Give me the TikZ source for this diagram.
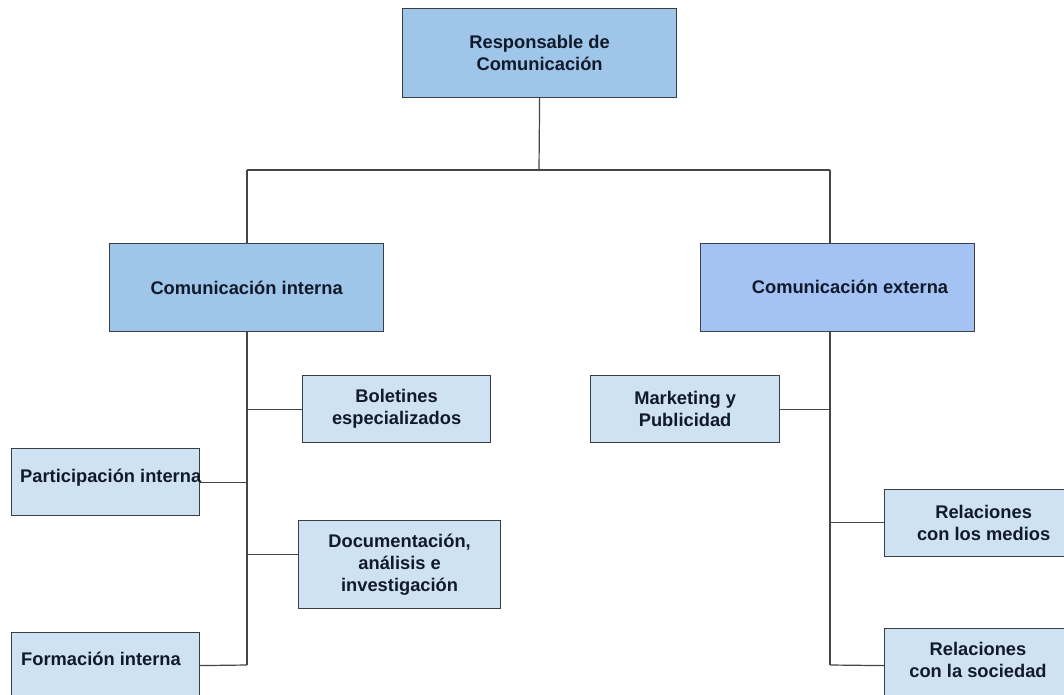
\documentclass[tikz,border=0pt]{standalone}
\usepackage{fontspec}
\setmainfont{Liberation Sans}
\definecolor{mainblue}{HTML}{9FC5E8}
\definecolor{extblue}{HTML}{A4C2F4}
\definecolor{lightblue}{HTML}{CFE2F3}
\definecolor{boxline}{HTML}{3A3F47}
\definecolor{conn}{HTML}{454545}
\definecolor{txt}{HTML}{111A2A}
\begin{document}
\begin{tikzpicture}[x=1pt,y=-1pt,
  box/.style={draw=boxline, line width=1.2pt, anchor=north west, inner sep=0pt,
    align=center, text=txt, font=\fontsize{18.3}{22}\selectfont\bfseries},
  lbl/.style={inner sep=0pt, align=center, text=txt, font=\fontsize{18.3}{22}\selectfont\bfseries},
  connector/.style={draw=conn, line width=1.2pt}]
\useasboundingbox (0,0) rectangle (1064,695);
\clip (0,0) rectangle (1064,695);
\fill[white] (0,0) rectangle (1064,695);

% boxes
\node[box, fill=mainblue, minimum width=274pt, minimum height=89pt] (top) at (402,8) {Responsable de\\Comunicación};
\node[box, fill=mainblue, minimum width=274pt, minimum height=88pt] (interna) at (109,243) {Comunicación interna};
\node[box, fill=extblue, minimum width=274pt, minimum height=88pt] (externa) at (700,243) {};
\node[lbl] (externaT) at (850,287) {Comunicación externa};

\node[box, fill=lightblue, minimum width=188pt, minimum height=67pt] (bol) at (302,375) {Boletines\\especializados};
\node[box, fill=lightblue, minimum width=188pt, minimum height=67pt] (part) at (11,448) {};
\node[lbl, anchor=base west] (partT) at (20,482) {Participación interna};
\node[box, fill=lightblue, minimum width=202pt, minimum height=88pt] (doc) at (298,520) {Documentación,\\análisis e\\investigación};
\node[box, fill=lightblue, minimum width=188pt, minimum height=66pt] (form) at (11,632) {};
\node[lbl, anchor=base west] (formT) at (21,665) {Formación interna};

\node[box, fill=lightblue, minimum width=189pt, minimum height=67pt] (mkt) at (590,375) {Marketing y\\Publicidad};
\node[box, fill=lightblue, minimum width=198pt, minimum height=67pt] (med) at (884,489) {Relaciones\\con los medios};
\node[box, fill=lightblue, minimum width=188pt, minimum height=74pt] (soc) at (884,628) {};
\node[lbl] (socT) at (978,660) {Relaciones\\con la sociedad};

% junctions
\coordinate (jTop) at (539,170);
\coordinate (jL) at (247,170);
\coordinate (jR) at (830,170);
\coordinate (iEnd) at (247,665);
\coordinate (eEnd) at (830,665);

% connectors
\draw[connector] (top.south) -- (jTop);
\draw[connector] (jL) -- (jR);
\draw[connector] (jL) -- (jL |- interna.north);
\draw[connector] (jR) -- (jR |- externa.north);

\draw[connector] (interna.south -| jL) -- (iEnd);
\draw[connector] (bol.west) -- (bol.west -| jL);
\draw[connector] (part.east) -- (part.east -| jL);
\draw[connector] ([yshift=10pt]doc.west) -- ([yshift=10pt]doc.west -| jL);
\draw[connector] (form.east) -- (iEnd);

\draw[connector] (externa.south -| jR) -- (eEnd);
\draw[connector] (mkt.east) -- (mkt.east -| jR);
\draw[connector] ([yshift=1pt]med.west) -- ([yshift=1pt]med.west -| jR);
\draw[connector] (soc.west) -- (eEnd);
\end{tikzpicture}
\end{document}
